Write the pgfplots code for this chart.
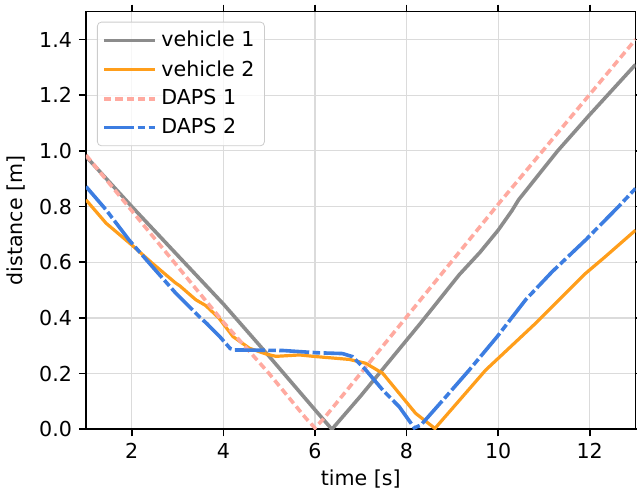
\documentclass[border=0pt]{standalone}
\usepackage{pgfplots}
\pgfplotsset{compat=1.18}
\usepackage{fontspec}
\setmainfont{DejaVu Sans}

\definecolor{vgray}{RGB}{140,140,140}
\definecolor{vorange}{RGB}{255,158,27}
\definecolor{dpink}{RGB}{255,170,160}
\definecolor{dblue}{RGB}{60,125,225}

\begin{document}
\begin{tikzpicture}[font=\fontsize{10.3}{12.4}\selectfont]
\begin{axis}[
  at={(0,0)}, anchor=south west,
  scale only axis,
  width=274.75pt, height=208.8pt,
  xmin=1, xmax=13, ymin=0, ymax=1.5,
  xtick={2,4,6,8,10,12},
  ytick={0,0.2,0.4,0.6,0.8,1.0,1.2,1.4},
  yticklabel style={/pgf/number format/.cd,fixed,fixed zerofill,precision=1},
  /pgf/number format/assume math mode=true,
  tick align=outside,
  major tick length=3.5pt,
  every tick/.style={black, line width=0.8pt},
  axis line style={black, line width=0.8pt},
  grid=major,
  major grid style={black!14, line width=0.6pt},
  xlabel={time [s]},
  xlabel style={yshift=1.6pt},
  ylabel={distance [m]},
  legend cell align=left,
  legend style={at={(0.02,0.976)}, anchor=north west,
    draw=black!20, rounded corners=2pt, fill=white, fill opacity=0.8,
    text opacity=1, inner xsep=2.5pt, inner ysep=2pt,
    row sep=0.3pt,
    nodes={inner sep=2.5pt}},
  legend image code/.code={\draw[#1] (0pt,0pt) -- (22.7pt,0pt);
    \path (0pt,0pt) -- (25.2pt,0pt);},
]
% vehicle 1
\addplot[vgray, line width=1.8pt] coordinates {
 (1,0.98) (2,0.80) (3,0.625) (4,0.45) (5,0.262) (6,0.07) (6.37,0.0)
 (7,0.12) (8.3,0.38) (9.15,0.555) (9.6,0.635) (10.0,0.715) (10.3,0.785)
 (10.45,0.825) (11.3,1.0) (12,1.13) (13,1.31)};
\addlegendentry{vehicle 1}
% vehicle 2
\addplot[vorange, line width=1.6pt] coordinates {
 (1,0.824) (1.44,0.74) (2,0.662) (2.45,0.596) (2.96,0.525) (3.05,0.515)
 (3.40,0.465) (3.61,0.445) (3.90,0.40) (4.21,0.333) (4.57,0.291)
 (4.94,0.27) (5.15,0.262) (5.66,0.267) (6.03,0.261) (6.75,0.251)
 (7.11,0.237) (7.48,0.201) (7.84,0.129) (8.2,0.057) (8.62,0.003)
 (9.73,0.213) (10.82,0.381) (11.91,0.56) (12.34,0.62) (13,0.715)};
\addlegendentry{vehicle 2}
% DAPS 1
\addplot[dpink, line width=1.8pt, dash pattern=on 3.65pt off 2pt] coordinates {
 (1,0.985) (4,0.385) (5,0.2) (5.8,0.04) (6.0,0.005) (6.2,0.04)
 (8.28,0.46) (10.02,0.812) (13,1.40)};
\addlegendentry{DAPS 1}
% DAPS 2
\addplot[dblue, line width=1.8pt, dash pattern=on 15pt off 1.7pt on 3.8pt off 1.7pt] coordinates {
 (1,0.872) (1.44,0.788) (1.94,0.68) (2.45,0.584) (2.96,0.489) (3.47,0.405)
 (3.63,0.381) (3.92,0.333) (4.15,0.29) (4.25,0.285) (5.3,0.283)
 (6.03,0.275) (6.6,0.272) (6.82,0.261) (7.11,0.213) (7.48,0.141)
 (7.84,0.081) (8.17,0.005) (8.31,0.015) (8.42,0.035) (8.86,0.117)
 (9.37,0.213) (9.98,0.333) (10.6,0.465) (11.18,0.566) (11.91,0.68)
 (12.63,0.80) (13,0.865)};
\addlegendentry{DAPS 2}
\end{axis}
\pgfresetboundingbox
\path[use as bounding box] (-43pt,-30.35pt) rectangle (275.5pt,214.65pt);
\end{tikzpicture}
\end{document}
